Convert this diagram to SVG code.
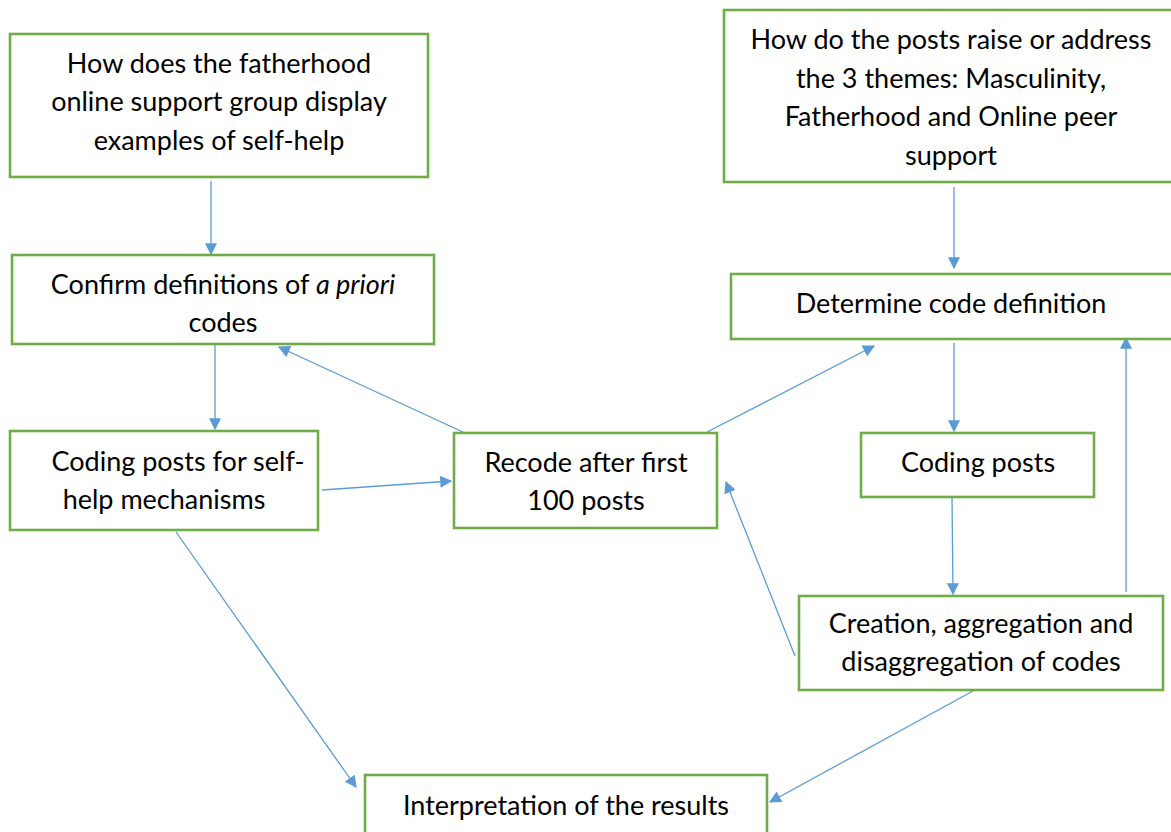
<svg xmlns="http://www.w3.org/2000/svg" width="1171" height="832" viewBox="0 0 1171 832">
<defs>
<style>
.box{fill:#fff;stroke:#70AD47;stroke-width:2.6}
.t{font-family:Lato,"Open Sans","Liberation Sans",sans-serif;font-size:27px;fill:#000;text-anchor:middle}
.c{stroke:#5B9BD5;stroke-width:1.3;fill:none;marker-end:url(#ah)}
</style>
<marker id="ah" viewBox="0 0 10 10" refX="9" refY="5" markerWidth="13" markerHeight="12" markerUnits="userSpaceOnUse" orient="auto">
<path d="M0,0 L10,5 L0,10 Z" fill="#5B9BD5"/>
</marker>
</defs>
<rect width="1171" height="832" fill="#fff"/>
<g id="connectors">
<line class="c" x1="211" y1="181" x2="211" y2="254"/>
<line class="c" x1="954" y1="187" x2="954" y2="268"/>
<line class="c" x1="215" y1="345" x2="215" y2="429"/>
<line class="c" x1="465" y1="433" x2="279" y2="347"/>
<line class="c" x1="707" y1="432" x2="874" y2="346"/>
<line class="c" x1="322" y1="490" x2="451" y2="481"/>
<line class="c" x1="954" y1="343" x2="954" y2="431"/>
<line class="c" x1="952" y1="497" x2="953" y2="594"/>
<line class="c" x1="1126" y1="592" x2="1126" y2="338"/>
<line class="c" x1="795" y1="656" x2="726" y2="482"/>
<line class="c" x1="176" y1="532" x2="356" y2="787"/>
<line class="c" x1="973" y1="691" x2="770" y2="802"/>
</g>
<g id="n1"><rect class="box" x="10" y="34" width="418" height="143"/>
<text class="t" x="219" y="73">How does the fatherhood</text>
<text class="t" x="219" y="111">online support group display</text>
<text class="t" x="219" y="150">examples of self-help</text></g>
<g id="n2"><rect class="box" x="724" y="10" width="456" height="172"/>
<text class="t" x="951" y="49">How do the posts raise or address</text>
<text class="t" x="951" y="88">the 3 themes: Masculinity,</text>
<text class="t" x="951" y="126">Fatherhood and Online peer</text>
<text class="t" x="951" y="165">support</text></g>
<g id="n3"><rect class="box" x="12" y="255" width="422" height="89"/>
<text class="t" x="223" y="294">Confirm definitions of <tspan font-style="italic">a priori</tspan></text>
<text class="t" x="223" y="332">codes</text></g>
<g id="n4"><rect class="box" x="731" y="274" width="450" height="65"/>
<text class="t" x="951" y="313">Determine code definition</text></g>
<g id="n5"><rect class="box" x="10" y="431" width="308" height="99"/>
<text class="t" x="178" y="471">Coding posts for self-</text>
<text class="t" x="164" y="509">help mechanisms</text></g>
<g id="n6"><rect class="box" x="454" y="433" width="263" height="95"/>
<text class="t" x="586" y="472">Recode after first</text>
<text class="t" x="586" y="510">100 posts</text></g>
<g id="n7"><rect class="box" x="861" y="433" width="233" height="64"/>
<text class="t" x="978" y="472">Coding posts</text></g>
<g id="n8"><rect class="box" x="799" y="596" width="364" height="94"/>
<text class="t" x="981" y="633">Creation, aggregation and</text>
<text class="t" x="981" y="671">disaggregation of codes</text></g>
<g id="n9"><rect class="box" x="365" y="775" width="402" height="70"/>
<text class="t" x="566" y="815">Interpretation of the results</text></g>
</svg>
